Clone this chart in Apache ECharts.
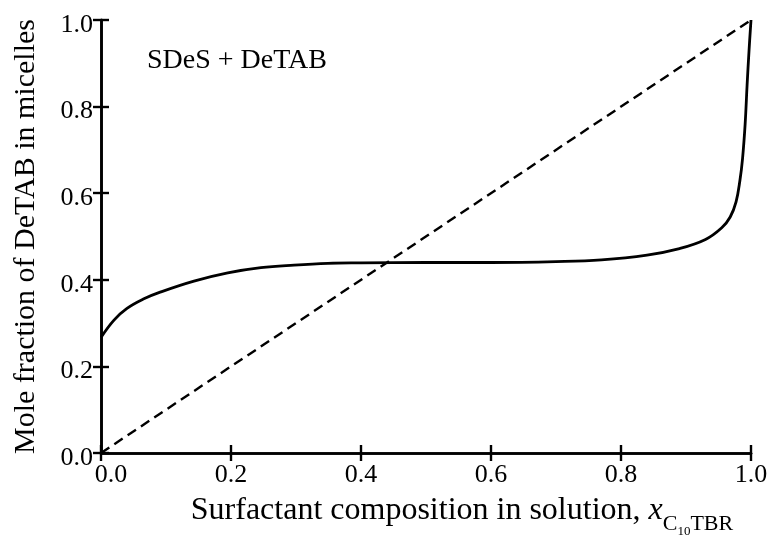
<!DOCTYPE html>
<html>
<head>
<meta charset="utf-8">
<script src="https://cdn.jsdelivr.net/npm/echarts@6/dist/echarts.min.js"></script>
<style>
  html, body { margin: 0; padding: 0; background: #fff; }
  #main { width: 770px; height: 536px; }
</style>
</head>
<body>
<div id="main"></div>
<script>
// mole fraction of C10TBR in solution (x) vs DeTAB in micelles (y)
const compX = [0, 0.02, 0.04, 0.066, 0.092, 0.143, 0.195, 0.246, 0.297, 0.349, 0.40, 0.50, 0.60, 0.70, 0.77, 0.84, 0.89, 0.93, 0.955, 0.968, 0.977, 0.983, 0.987, 0.991, 0.994, 0.997, 1.0];
const micelleFrac = [0.267, 0.307, 0.334, 0.356, 0.372, 0.397, 0.416, 0.428, 0.434, 0.438, 0.439, 0.440, 0.440, 0.442, 0.446, 0.457, 0.472, 0.493, 0.52, 0.545, 0.58, 0.63, 0.68, 0.76, 0.85, 0.93, 1.0];

// ideal mixing line
const idealX = [0, 1];
const idealY = [0, 1];

const tickLabels = ['0.0', '0.2', '0.4', '0.6', '0.8', '1.0'];

const FONT = "'Liberation Serif', 'Times New Roman', serif";

const chart = echarts.init(document.getElementById('main'));

function label(v) {
    return tickLabels[Math.round(v * 5)];
}

const axisLineStyle = { color: '#000', width: 2.6 };
const tickStyle = { show: true, inside: true, length: 8, lineStyle: { color: '#000', width: 2.4 } };

const options = {
    animation: false,
    backgroundColor: '#fff',
    grid: { left: 101, right: 19, top: 20, bottom: 83, outerBoundsMode: 'none', containLabel: false },
    xAxis: [
        {
            type: 'value', min: 0, max: 1, interval: 0.2, position: 'bottom',
            axisLine: { show: true, lineStyle: axisLineStyle },
            axisTick: tickStyle,
            splitLine: { show: false },
            axisLabel: {
                margin: 9,
                formatter: function (v) {
                    return v === 0 ? '{first|' + label(v) + '}' : label(v);
                },
                color: '#000', fontFamily: FONT, fontSize: 26,
                rich: { first: { padding: [0, 0, 0, 20], color: '#000', fontFamily: FONT, fontSize: 26 } }
            },
            name: '{n|Surfactant composition in solution, }{i|x}{c|C}{s|10}{c|TBR}',
            nameLocation: 'middle',
            nameGap: 42,
            nameTextStyle: {
                padding: [0, 0, 0, 72],
                rich: {
                    n: { fontFamily: FONT, fontSize: 32, lineHeight: 30, verticalAlign: 'top', color: '#000' },
                    i: { fontFamily: FONT, fontSize: 32, lineHeight: 30, verticalAlign: 'top', fontStyle: 'italic', color: '#000' },
                    c: { fontFamily: FONT, fontSize: 22, lineHeight: 22, verticalAlign: 'top', padding: [18, 0, 0, 0], color: '#000' },
                    s: { fontFamily: FONT, fontSize: 13, lineHeight: 13, verticalAlign: 'top', padding: [30, 0, 0, 0], color: '#000' }
                }
            }
        },
        {
            type: 'value', min: 0, max: 1, interval: 0.2, position: 'top',
            axisLine: { show: true, lineStyle: axisLineStyle },
            axisTick: tickStyle,
            axisLabel: { show: false },
            splitLine: { show: false }
        }
    ],
    yAxis: [
        {
            type: 'value', min: 0, max: 1, interval: 0.2, position: 'left',
            axisLine: { show: true, lineStyle: axisLineStyle },
            axisTick: tickStyle,
            splitLine: { show: false },
            axisLabel: {
                margin: 8,
                formatter: function (v) { return '{t|' + label(v) + '}'; },
                rich: { t: { color: '#000', fontFamily: FONT, fontSize: 26, padding: [10, 0, 0, 0] } }
            },
            name: 'Mole fraction of DeTAB in micelles',
            nameLocation: 'middle',
            nameGap: 60,
            nameTextStyle: { fontFamily: FONT, fontSize: 30, color: '#000' }
        },
        {
            type: 'value', min: 0, max: 1, interval: 0.2, position: 'right',
            axisLine: { show: true, lineStyle: axisLineStyle },
            axisTick: tickStyle,
            axisLabel: { show: false },
            splitLine: { show: false }
        }
    ],
    graphic: [
        {
            type: 'text', left: 147, top: 47,
            style: { text: 'SDeS + DeTAB', font: '28px ' + FONT, fill: '#000' }
        }
    ],
    series: [
        {
            type: 'line',
            data: compX.map((x, i) => [x, micelleFrac[i]]),
            showSymbol: false,
            smooth: 0.4,
            lineStyle: { color: '#000', width: 2.8 }
        },
        {
            type: 'line',
            data: idealX.map((x, i) => [x, idealY[i]]),
            showSymbol: false,
            lineStyle: { color: '#000', width: 2.4, type: [10, 6] }
        }
    ]
};

chart.setOption(options);
</script>
</body>
</html>
